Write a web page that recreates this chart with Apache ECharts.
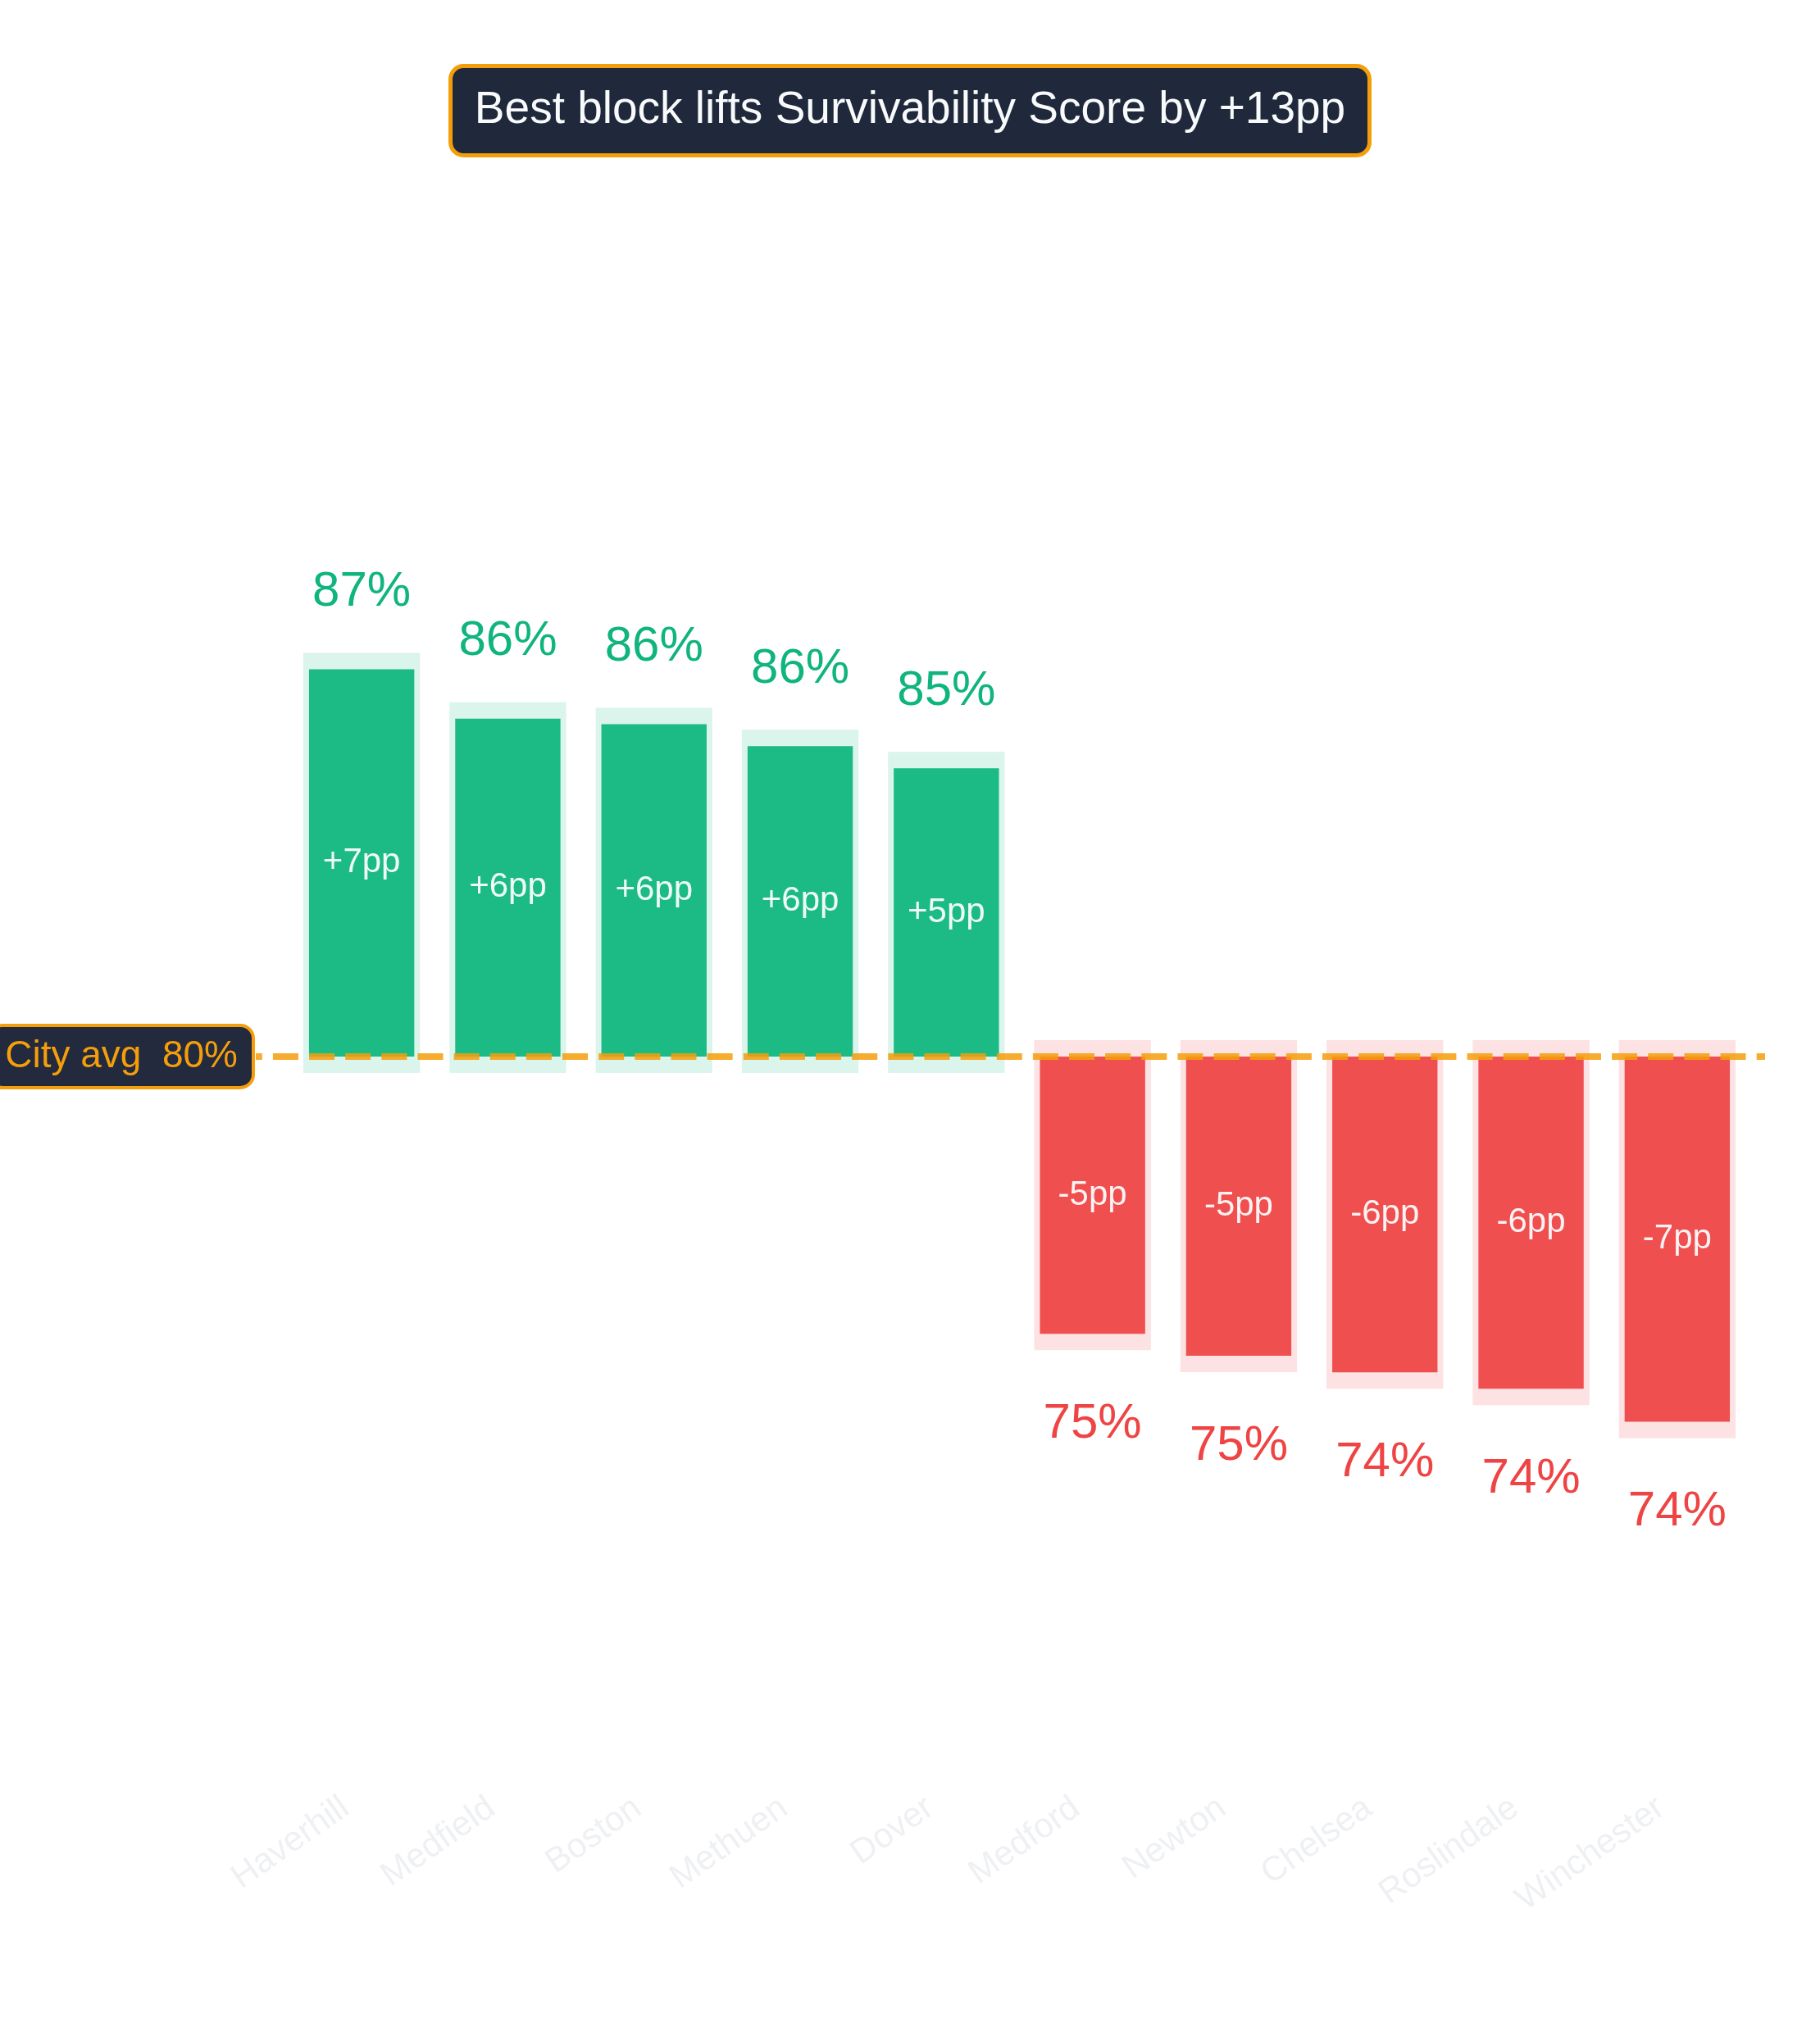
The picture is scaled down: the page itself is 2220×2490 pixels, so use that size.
<!DOCTYPE html>
<html>

<head>
    <meta charset="utf-8">
    <script src="https://cdn.jsdelivr.net/npm/echarts@6/dist/echarts.min.js"></script>
    <style>
        html, body { margin: 0; padding: 0; background: #ffffff; }
    </style>
</head>

<body>
    <div id="main" style="width: 2220px;height:2490px;"></div>

    <script type="text/javascript">
        // blocks ranked by Survivability Score
        var blocks = ['Haverhill', 'Medfield', 'Boston', 'Methuen', 'Dover',
            'Medford', 'Newton', 'Chelsea', 'Roslindale', 'Winchester'];
        var scores = [87.2, 86.3, 86.2, 85.8, 85.4, 75.1, 74.7, 74.4, 74.1, 73.5];
        var cityAvg = 80.15;
        var titleText = 'Best block lifts Survivability Score by +13pp';

        var FONT = '"Liberation Sans", Arial, Helvetica, sans-serif';
        var GREEN = '#1cbb86', GREEN_TXT = '#10b47f', GREEN_HALO = '#dbf4ec';
        var RED = '#ef4f4f', RED_TXT = '#ef4444', RED_HALO = '#fde2e3';
        var ORANGE = '#f59e0b', NAVY = '#1f293b';

        var myChart = echarts.init(document.getElementById('main'));

        function fmtLift(d) {
            var r = Math.round(d);
            return (r > 0 ? '+' : '') + r + 'pp';
        }

        var option = {
            backgroundColor: '#ffffff',
            animation: false,
            title: {
                text: titleText,
                left: 'center',
                top: 80,
                padding: [25, 30],
                backgroundColor: NAVY,
                borderColor: ORANGE,
                borderWidth: 5,
                borderRadius: 16,
                textStyle: {
                    color: '#f8fafc',
                    fontSize: 55,
                    lineHeight: 60,
                    fontWeight: 'normal',
                    fontFamily: FONT
                }
            },
            grid: {
                left: 352,
                right: 85,
                top: 227,
                bottom: 300
            },
            xAxis: {
                type: 'category',
                data: blocks,
                axisLine: { show: false },
                axisTick: { show: false },
                splitLine: { show: false },
                axisLabel: {
                    interval: 0,
                    rotate: 35,
                    margin: -2,
                    padding: [0, 24, 0, 0],
                    fontSize: 42,
                    color: '#eef0f3',
                    fontFamily: FONT
                }
            },
            yAxis: {
                type: 'value',
                min: 66.7,
                max: 96,
                show: false,
                splitLine: { show: false }
            },
            series: [{
                type: 'custom',
                data: scores.map(function (s, i) { return [i, s]; }),
                renderItem: function (params, api) {
                    var i = api.value(0);
                    var s = api.value(1);
                    var base = api.coord([i, cityAvg]);
                    var end = api.coord([i, s]);
                    var bw = api.size([1, 0])[0] * 0.72;
                    var up = s >= cityAvg;
                    var y0 = Math.min(base[1], end[1]);
                    var y1 = Math.max(base[1], end[1]);
                    var x0 = base[0] - bw / 2;
                    return {
                        type: 'group',
                        children: [{
                            type: 'rect',
                            shape: { x: x0 - 7, y: y0 - 20, width: bw + 14, height: y1 - y0 + 40 },
                            style: { fill: up ? GREEN_HALO : RED_HALO }
                        }, {
                            type: 'rect',
                            shape: { x: x0, y: y0, width: bw, height: y1 - y0 },
                            style: { fill: up ? GREEN : RED }
                        }, {
                            type: 'text',
                            x: base[0],
                            y: (y0 + y1) / 2,
                            style: {
                                text: fmtLift(s - cityAvg),
                                fill: 'rgba(255,255,255,0.93)',
                                fontSize: 42,
                                fontFamily: FONT,
                                align: 'center',
                                verticalAlign: 'middle'
                            }
                        }, {
                            type: 'text',
                            x: base[0],
                            y: up ? y0 - 94 : y1 + 110,
                            style: {
                                text: Math.round(s) + '%',
                                fill: up ? GREEN_TXT : RED_TXT,
                                fontSize: 60,
                                fontFamily: FONT,
                                align: 'center',
                                verticalAlign: 'middle'
                            }
                        }]
                    };
                },
                markLine: {
                    silent: true,
                    symbol: 'none',
                    animation: false,
                    lineStyle: {
                        color: 'rgba(245,158,11,0.85)',
                        width: 8,
                        type: [31, 13.14],
                        dashOffset: 23.2
                    },
                    label: {
                        show: true,
                        position: 'start',
                        distance: 5,
                        formatter: 'City avg  ' + Math.round(cityAvg) + '%',
                        color: ORANGE,
                        fontSize: 46,
                        lineHeight: 48,
                        fontFamily: FONT,
                        backgroundColor: '#232a3d',
                        borderColor: ORANGE,
                        borderWidth: 4,
                        borderRadius: 14,
                        padding: [12, 17]
                    },
                    emphasis: { disabled: true },
                    data: [[
                        { xAxis: 0, yAxis: cityAvg, x: 312 },
                        { xAxis: 9, yAxis: cityAvg, x: 2153 }
                    ]]
                }
            }]
        };
        myChart.setOption(option);
    </script>
</body>

</html>
